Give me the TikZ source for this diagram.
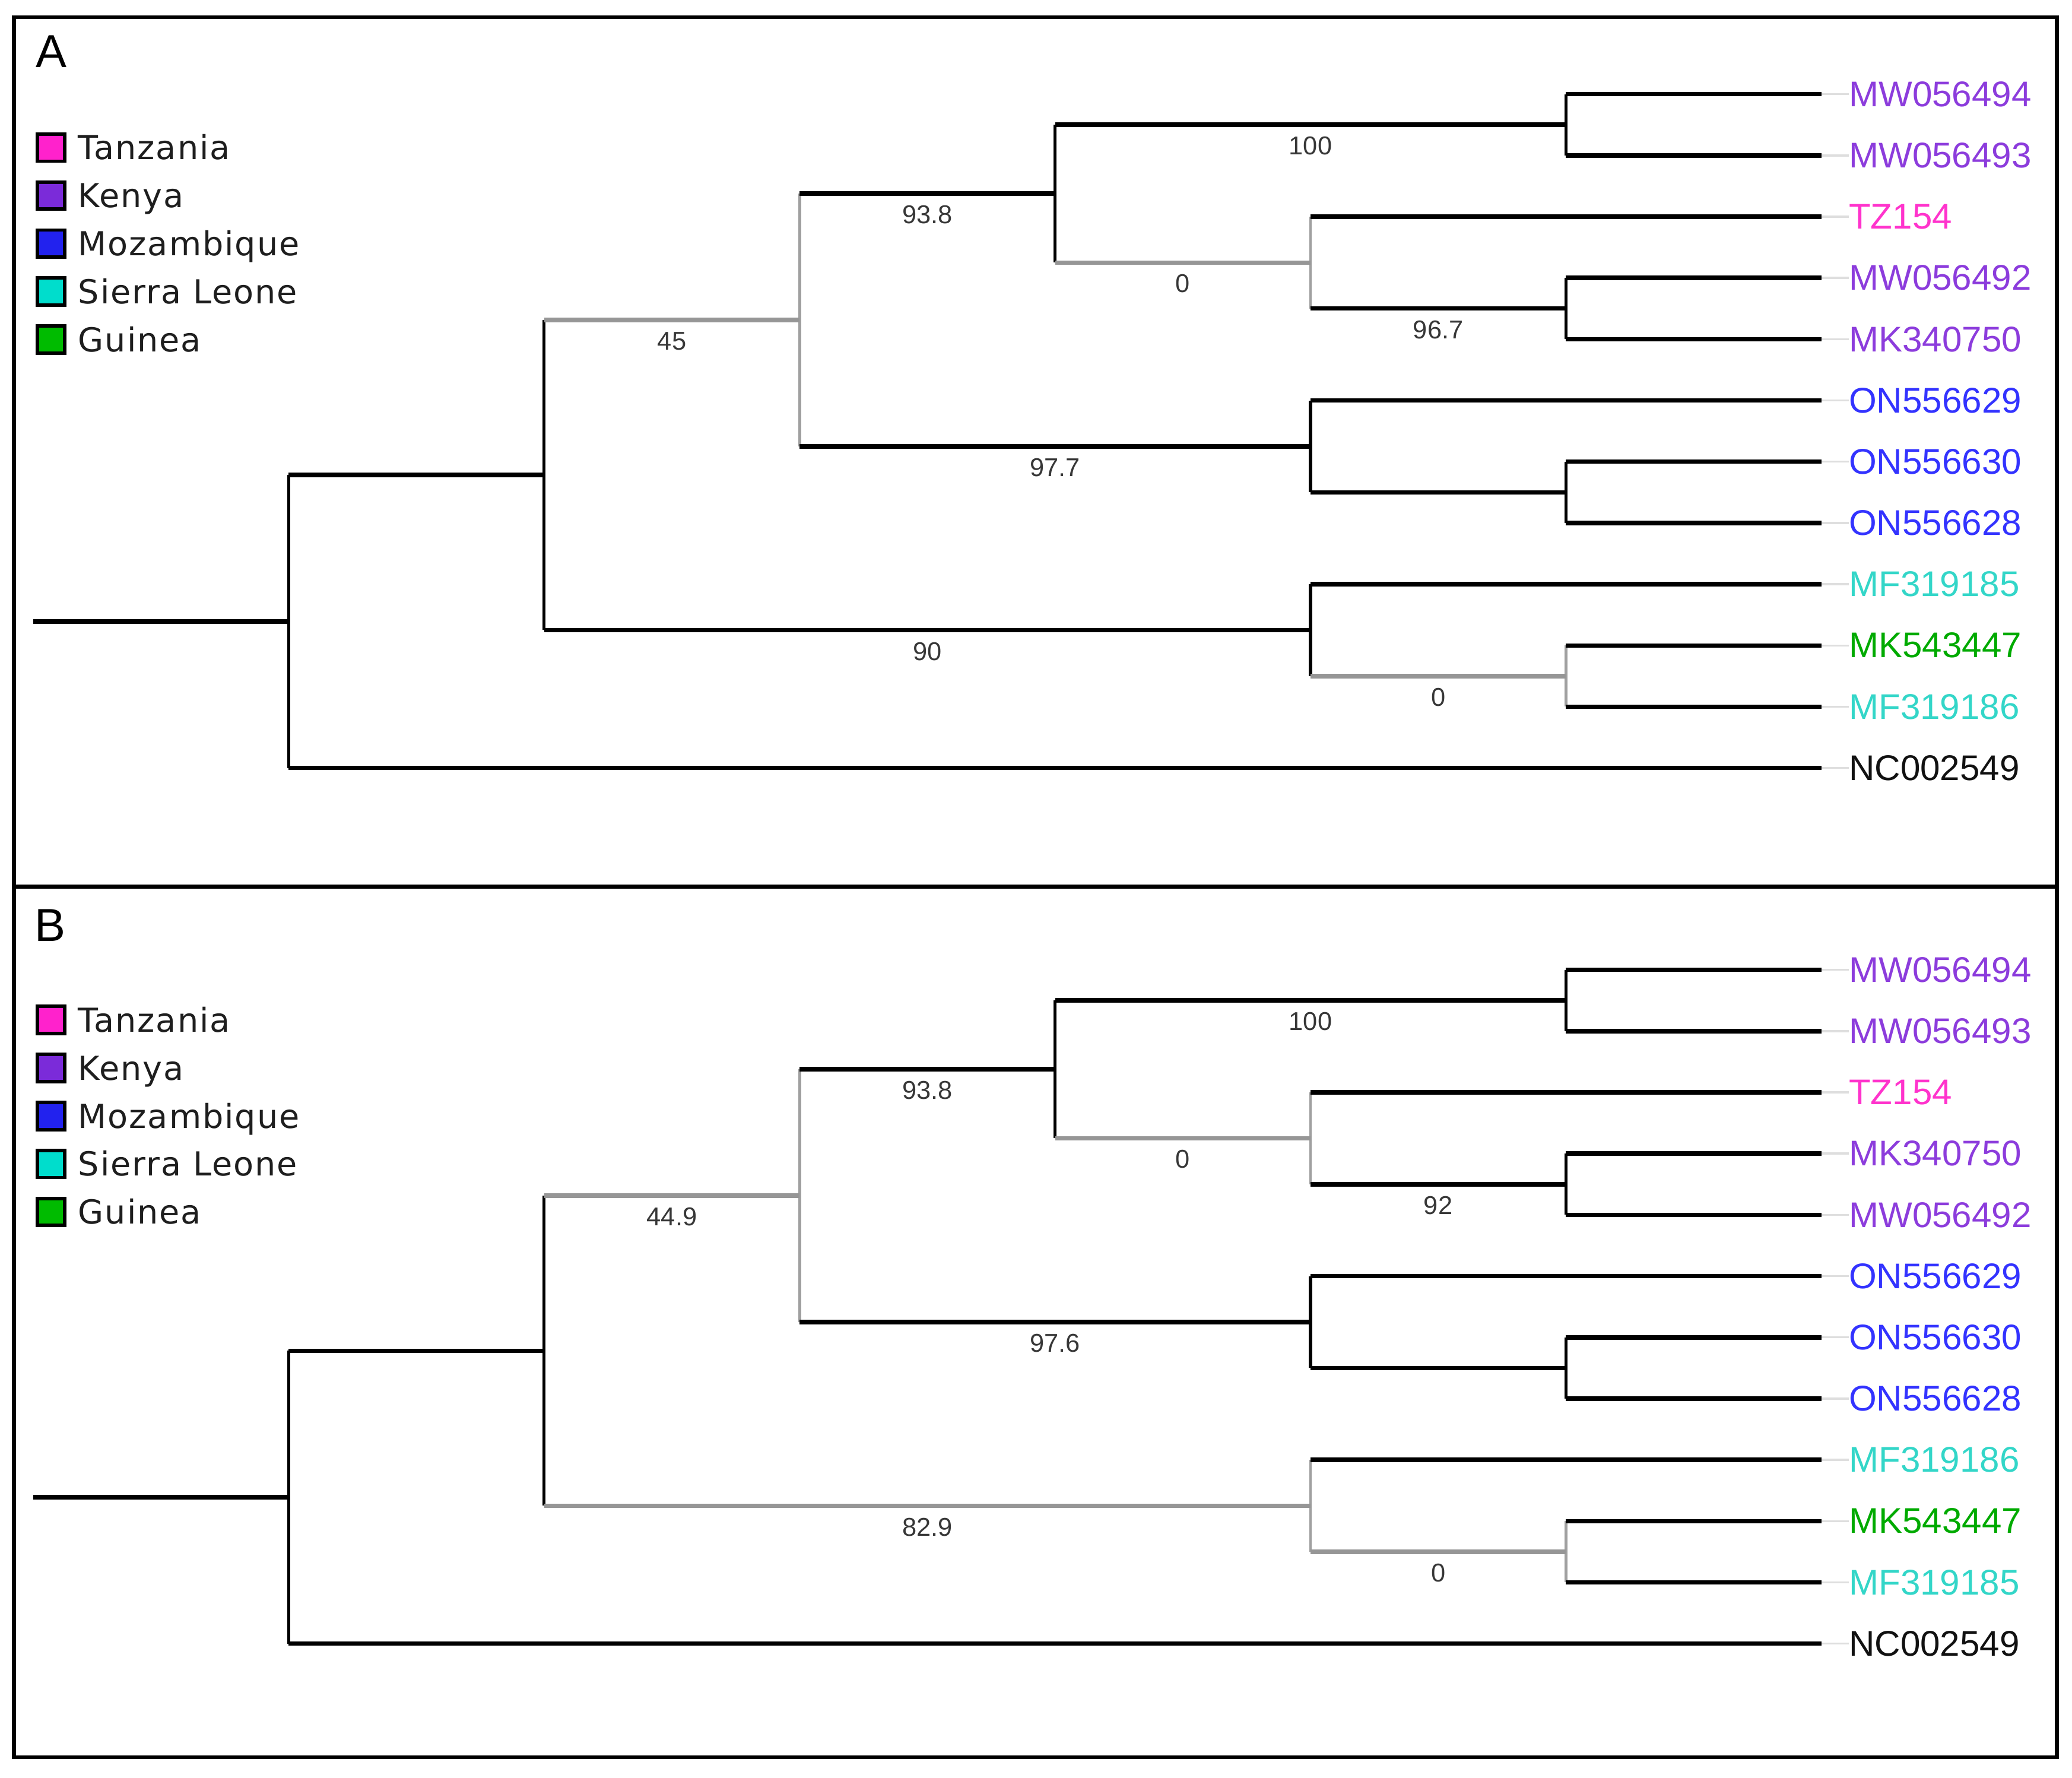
\documentclass[tikz,border=0pt]{standalone}
\usepackage{fontspec}
\newfontfamily\arialf{Liberation Sans}
\newfontfamily\verdf[LetterSpace=3.5]{DejaVu Sans}
\definecolor{brgray}{RGB}{150,150,150}
\definecolor{vgray}{RGB}{160,160,160}
\definecolor{tipgray}{RGB}{222,222,222}
\definecolor{bootc}{RGB}{55,55,55}
\definecolor{legtext}{RGB}{30,30,30}
\definecolor{cTZ}{RGB}{255,34,204}
\definecolor{cKE}{RGB}{123,43,217}
\definecolor{cMZ}{RGB}{34,34,238}
\definecolor{cSL}{RGB}{0,221,204}
\definecolor{cGU}{RGB}{0,187,0}
\definecolor{tKE}{RGB}{140,60,220}
\definecolor{tTZ}{RGB}{255,51,204}
\definecolor{tMZ}{RGB}{51,51,255}
\definecolor{tSL}{RGB}{51,214,200}
\definecolor{tGU}{RGB}{0,170,0}
\definecolor{tNC}{RGB}{17,17,17}
\tikzset{
 hbk/.style={line width=3.4pt, black},
 hgr/.style={line width=3.4pt, brgray},
 vbk/.style={line width=2.3pt, black},
 vgr/.style={line width=2.1pt, vgray},
 tipl/.style={line width=1.6pt, tipgray},
 leaflab/.style={anchor=west, inner sep=0pt, font=\arialf\fontsize{27}{32}\selectfont},
 blab/.style={pos=0.5, yshift=-16pt, inner sep=0pt, text=bootc, font=\arialf\fontsize{19.5}{22}\selectfont},
 legsq/.style={draw=black, line width=2.6pt, minimum size=20.5pt, inner sep=0pt},
 legtxt/.style={anchor=base west, inner sep=0pt, text=legtext, font=\verdf\fontsize{25}{28}\selectfont},
 panellab/.style={anchor=base west, inner sep=0pt, font=\arialf\fontsize{35}{40}\selectfont},
 frameline/.style={line width=3pt, black}
}
\begin{document}
\begin{tikzpicture}[x=1pt,y=-1pt]
\useasboundingbox (0,0) rectangle (1568,1344.8);
% frames
\coordinate (F1) at (10.7,13);
\coordinate (F2) at (1556.6,1329.5);
\coordinate (D1) at (10.7,670.7);
\coordinate (D2) at (1556.6,670.7);
\draw[frameline] (F1) rectangle (F2);
\draw[frameline] (D1) -- (D2);
\node[panellab] (PA) at (27,51) {A};
\node[panellab] (PB) at (26,712) {B};
% legends
\foreach \i/\c/\t in {0/cTZ/Tanzania,1/cKE/Kenya,2/cMZ/Mozambique,3/cSL/Sierra Leone,4/cGU/Guinea} {
 \node[legsq, fill=\c] (Asq\i) at (38.7, 111.7+36.3*\i) {};
 \node[legtxt] (Aleg\i) at (59, 120.8+36.3*\i) {\t};
 \node[legsq, fill=\c] (Bsq\i) at (38.7, 771.7+36.3*\i) {};
 \node[legtxt] (Bleg\i) at (59, 780.8+36.3*\i) {\t};
}
% ===== Tree A =====
\foreach \i/\n/\c in {0/MW056494/tKE,1/MW056493/tKE,2/TZ154/tTZ,3/MW056492/tKE,4/MK340750/tKE,5/ON556629/tMZ,6/ON556630/tMZ,7/ON556628/tMZ,8/MF319185/tSL,9/MK543447/tGU,10/MF319186/tSL,11/NC002549/tNC} {
 \coordinate (Atip\i) at (1378.3, 71.2+46.35*\i);
 \node[leaflab, text=\c] (Alab\i) at (1399, 71.2+46.35*\i) {\n};
 \draw[tipl] (Atip\i) -- (Alab\i.west);
}
\coordinate (Ar) at (25,470.25);
\coordinate (A1) at (218.5,470.25);
\coordinate (A2) at (411.8,359.44);
\coordinate (A3) at (605.1,242.12);
\coordinate (A4) at (798.4,146.52);
\coordinate (A5) at (1185,94.375);
\coordinate (A6) at (991.7,198.66);
\coordinate (A7) at (1185,233.425);
\coordinate (A8) at (991.7,337.71);
\coordinate (A9) at (1185,372.475);
\coordinate (A10) at (991.7,476.76);
\coordinate (A11) at (1185,511.525);
\draw[vbk] (A1 |- A2) -- (A1 |- Atip11);
\draw[vbk] (A2 |- A3) -- (A2 |- A10);
\draw[vgr] (A3 |- A4) -- (A3 |- A8);
\draw[vbk] (A4 |- A5) -- (A4 |- A6);
\draw[vbk] (A5 |- Atip0) -- (A5 |- Atip1);
\draw[vgr] (A6 |- Atip2) -- (A6 |- A7);
\draw[vbk] (A7 |- Atip3) -- (A7 |- Atip4);
\draw[vbk] (A8 |- Atip5) -- (A8 |- A9);
\draw[vbk] (A9 |- Atip6) -- (A9 |- Atip7);
\draw[vbk] (A10 |- Atip8) -- (A10 |- A11);
\draw[vgr] (A11 |- Atip9) -- (A11 |- Atip10);
\draw[hbk] (Ar) -- (A1);
\draw[hbk] (A1 |- A2) -- (A2);
\draw[hbk] (A1 |- Atip11) -- (Atip11);
\draw[hgr] (A2 |- A3) -- (A3) node[blab]{45};
\draw[hbk] (A2 |- A10) -- (A10) node[blab]{90};
\draw[hbk] (A3 |- A4) -- (A4) node[blab]{93.8};
\draw[hbk] (A3 |- A8) -- (A8) node[blab]{97.7};
\draw[hbk] (A4 |- A5) -- (A5) node[blab]{100};
\draw[hgr] (A4 |- A6) -- (A6) node[blab]{0};
\draw[hbk] (A5 |- Atip0) -- (Atip0);
\draw[hbk] (A5 |- Atip1) -- (Atip1);
\draw[hbk] (A6 |- Atip2) -- (Atip2);
\draw[hbk] (A6 |- A7) -- (A7) node[blab]{96.7};
\draw[hbk] (A7 |- Atip3) -- (Atip3);
\draw[hbk] (A7 |- Atip4) -- (Atip4);
\draw[hbk] (A8 |- Atip5) -- (Atip5);
\draw[hbk] (A8 |- A9) -- (A9);
\draw[hbk] (A9 |- Atip6) -- (Atip6);
\draw[hbk] (A9 |- Atip7) -- (Atip7);
\draw[hbk] (A10 |- Atip8) -- (Atip8);
\draw[hgr] (A10 |- A11) -- (A11) node[blab]{0};
\draw[hbk] (A11 |- Atip9) -- (Atip9);
\draw[hbk] (A11 |- Atip10) -- (Atip10);
% ===== Tree B =====
\foreach \i/\n/\c in {0/MW056494/tKE,1/MW056493/tKE,2/TZ154/tTZ,3/MK340750/tKE,4/MW056492/tKE,5/ON556629/tMZ,6/ON556630/tMZ,7/ON556628/tMZ,8/MF319186/tSL,9/MK543447/tGU,10/MF319185/tSL,11/NC002549/tNC} {
 \coordinate (Btip\i) at (1378.3, 733.7+46.35*\i);
 \node[leaflab, text=\c] (Blab\i) at (1399, 733.7+46.35*\i) {\n};
 \draw[tipl] (Btip\i) -- (Blab\i.west);
}
\coordinate (Br) at (25,1132.75);
\coordinate (B1) at (218.5,1132.75);
\coordinate (B2) at (411.8,1021.94);
\coordinate (B3) at (605.1,904.62);
\coordinate (B4) at (798.4,809.02);
\coordinate (B5) at (1185,756.875);
\coordinate (B6) at (991.7,861.16);
\coordinate (B7) at (1185,895.925);
\coordinate (B8) at (991.7,1000.21);
\coordinate (B9) at (1185,1034.975);
\coordinate (B10) at (991.7,1139.26);
\coordinate (B11) at (1185,1174.025);
\draw[vbk] (B1 |- B2) -- (B1 |- Btip11);
\draw[vbk] (B2 |- B3) -- (B2 |- B10);
\draw[vgr] (B3 |- B4) -- (B3 |- B8);
\draw[vbk] (B4 |- B5) -- (B4 |- B6);
\draw[vbk] (B5 |- Btip0) -- (B5 |- Btip1);
\draw[vgr] (B6 |- Btip2) -- (B6 |- B7);
\draw[vbk] (B7 |- Btip3) -- (B7 |- Btip4);
\draw[vbk] (B8 |- Btip5) -- (B8 |- B9);
\draw[vbk] (B9 |- Btip6) -- (B9 |- Btip7);
\draw[vgr] (B10 |- Btip8) -- (B10 |- B11);
\draw[vgr] (B11 |- Btip9) -- (B11 |- Btip10);
\draw[hbk] (Br) -- (B1);
\draw[hbk] (B1 |- B2) -- (B2);
\draw[hbk] (B1 |- Btip11) -- (Btip11);
\draw[hgr] (B2 |- B3) -- (B3) node[blab]{44.9};
\draw[hgr] (B2 |- B10) -- (B10) node[blab]{82.9};
\draw[hbk] (B3 |- B4) -- (B4) node[blab]{93.8};
\draw[hbk] (B3 |- B8) -- (B8) node[blab]{97.6};
\draw[hbk] (B4 |- B5) -- (B5) node[blab]{100};
\draw[hgr] (B4 |- B6) -- (B6) node[blab]{0};
\draw[hbk] (B5 |- Btip0) -- (Btip0);
\draw[hbk] (B5 |- Btip1) -- (Btip1);
\draw[hbk] (B6 |- Btip2) -- (Btip2);
\draw[hbk] (B6 |- B7) -- (B7) node[blab]{92};
\draw[hbk] (B7 |- Btip3) -- (Btip3);
\draw[hbk] (B7 |- Btip4) -- (Btip4);
\draw[hbk] (B8 |- Btip5) -- (Btip5);
\draw[hbk] (B8 |- B9) -- (B9);
\draw[hbk] (B9 |- Btip6) -- (Btip6);
\draw[hbk] (B9 |- Btip7) -- (Btip7);
\draw[hbk] (B10 |- Btip8) -- (Btip8);
\draw[hgr] (B10 |- B11) -- (B11) node[blab]{0};
\draw[hbk] (B11 |- Btip9) -- (Btip9);
\draw[hbk] (B11 |- Btip10) -- (Btip10);
\end{tikzpicture}
\end{document}
